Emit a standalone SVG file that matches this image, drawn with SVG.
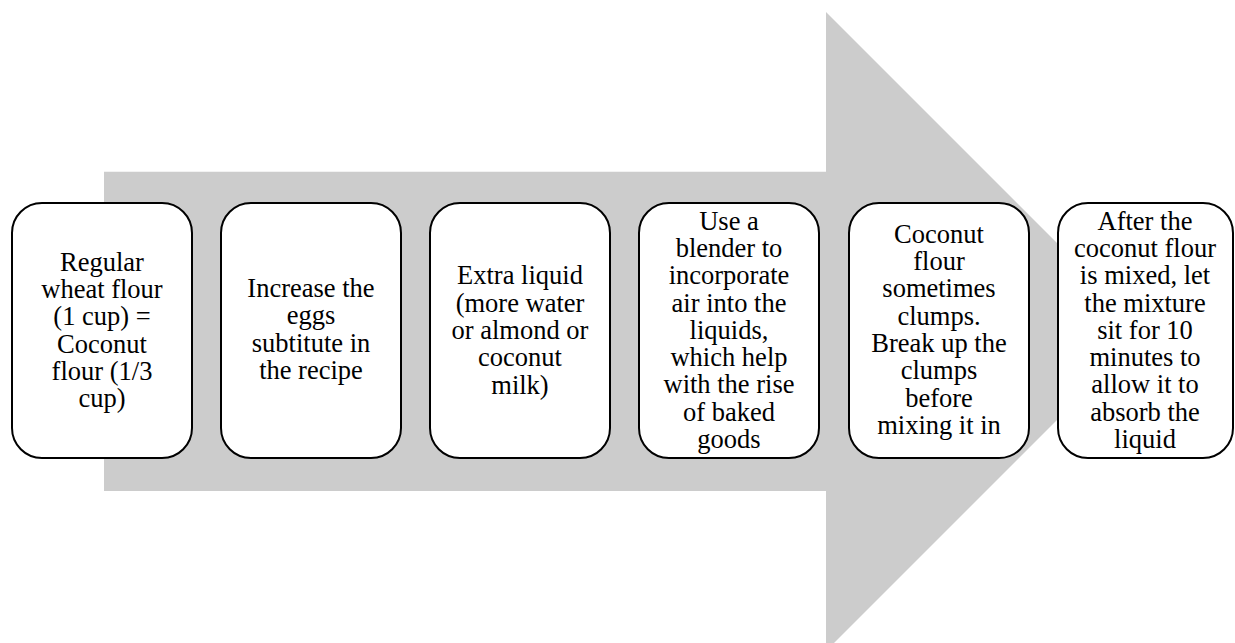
<svg xmlns="http://www.w3.org/2000/svg" width="1235" height="643" viewBox="0 0 1235 643">
<style>
.box{fill:#ffffff;stroke:#000000;stroke-width:2}
.t{font-family:'Liberation Serif','DejaVu Serif',serif;font-size:26.5px;fill:#000000;text-anchor:middle}
</style>
<rect x="0" y="0" width="1235" height="643" fill="#ffffff"/>
<g id="arrow">
<polygon points="104,171.7 826,171.7 826,12 1145.5,331.5 826,651 826,491 104,491" fill="#cccccc"/>
</g>
<g id="connectors"></g>
<g id="n1">
<rect class="box" x="12" y="203" width="180" height="255" rx="30" ry="30"/>
<text class="t" font-family="Liberation Serif, serif" x="102" y="270.7"><tspan x="102">Regular</tspan><tspan x="102" dy="27.3">wheat flour</tspan><tspan x="102" dy="27.3">(1 cup) =</tspan><tspan x="102" dy="27.3">Coconut</tspan><tspan x="102" dy="27.3">flour (1/3</tspan><tspan x="102" dy="27.3">cup)</tspan></text>
</g>
<g id="n2">
<rect class="box" x="221" y="203" width="180" height="255" rx="30" ry="30"/>
<text class="t" x="311" y="297"><tspan x="311">Increase the</tspan><tspan x="311" dy="27.3">eggs</tspan><tspan x="311" dy="27.3">subtitute in</tspan><tspan x="311" dy="27.3">the recipe</tspan></text>
</g>
<g id="n3">
<rect class="box" x="430" y="203" width="180" height="255" rx="30" ry="30"/>
<text class="t" x="520" y="284.4"><tspan x="520">Extra liquid</tspan><tspan x="520" dy="27.3">(more water</tspan><tspan x="520" dy="27.3">or almond or</tspan><tspan x="520" dy="27.3">coconut</tspan><tspan x="520" dy="27.3">milk)</tspan></text>
</g>
<g id="n4">
<rect class="box" x="639" y="203" width="180" height="255" rx="30" ry="30"/>
<text class="t" x="729" y="229.6"><tspan x="729">Use a</tspan><tspan x="729" dy="27.3">blender to</tspan><tspan x="729" dy="27.3">incorporate</tspan><tspan x="729" dy="27.3">air into the</tspan><tspan x="729" dy="27.3">liquids,</tspan><tspan x="729" dy="27.3">which help</tspan><tspan x="729" dy="27.3">with the rise</tspan><tspan x="729" dy="27.3">of baked</tspan><tspan x="729" dy="27.3">goods</tspan></text>
</g>
<g id="n5">
<rect class="box" x="849" y="203" width="180" height="255" rx="30" ry="30"/>
<text class="t" x="939" y="242.8"><tspan x="939">Coconut</tspan><tspan x="939" dy="27.3">flour</tspan><tspan x="939" dy="27.3">sometimes</tspan><tspan x="939" dy="27.3">clumps.</tspan><tspan x="939" dy="27.3">Break up the</tspan><tspan x="939" dy="27.3">clumps</tspan><tspan x="939" dy="27.3">before</tspan><tspan x="939" dy="27.3">mixing it in</tspan></text>
</g>
<g id="n6">
<rect class="box" x="1058" y="203" width="175" height="255" rx="30" ry="30"/>
<text class="t" x="1145" y="229.6"><tspan x="1145">After the</tspan><tspan x="1145" dy="27.3">coconut flour</tspan><tspan x="1145" dy="27.3">is mixed, let</tspan><tspan x="1145" dy="27.3">the mixture</tspan><tspan x="1145" dy="27.3">sit for 10</tspan><tspan x="1145" dy="27.3">minutes to</tspan><tspan x="1145" dy="27.3">allow it to</tspan><tspan x="1145" dy="27.3">absorb the</tspan><tspan x="1145" dy="27.3">liquid</tspan></text>
</g>
</svg>
